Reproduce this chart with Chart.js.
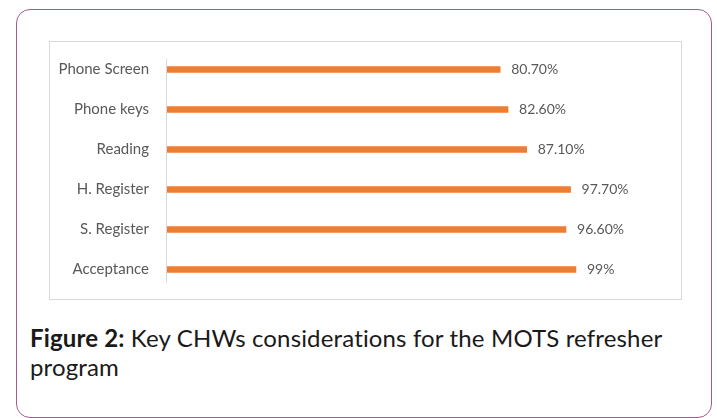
<!DOCTYPE html>
<html>
<head>
<meta charset="utf-8">
<script src="https://cdn.jsdelivr.net/npm/chart.js@4/dist/chart.umd.min.js"></script>
<style>
  html, body { margin: 0; padding: 0; background: #fff; }
  body { width: 717px; height: 418px; position: relative; overflow: hidden; font-family: Lato, "Open Sans", sans-serif; }
  .frame {
    position: absolute; left: 16px; top: 9px; width: 696px; height: 409px;
    box-sizing: border-box; border: 1.5px solid #a65a94; border-radius: 14px;
  }
  .chart-box {
    position: absolute; left: 49px; top: 41px; width: 633px; height: 259px;
    box-sizing: border-box; border: 1px solid #d9d9d9; background: #fff;
  }
  .chart-box canvas { position: absolute; left: 0; top: 0; }
  .caption {
    position: absolute; left: 30px; top: 323px; width: 660px;
    font-size: 24px; line-height: 29px; letter-spacing: 0.15px; color: #1a1a1a;
  }
  .caption b { font-weight: bold; }
</style>
</head>
<body>
<div class="frame"></div>
<div class="chart-box"><canvas id="chart" width="631" height="257"></canvas></div>
<div class="caption"><b>Figure 2:</b> Key CHWs considerations for the MOTS refresher program</div>

<script>
// data
const categories = ["Phone Screen", "Phone keys", "Reading", "H. Register", "S. Register", "Acceptance"];
const values = [80.7, 82.6, 87.1, 97.7, 96.6, 99];
const valueLabels = ["80.70%", "82.60%", "87.10%", "97.70%", "96.60%", "99%"];

const barColor = "#ed7d31";
const textColor = "#595959";

// draw the value text just right of each bar
const valueLabelPlugin = {
    id: "valueLabels",
    afterDatasetsDraw(chart) {
        const ctx = chart.ctx;
        const meta = chart.getDatasetMeta(0);
        ctx.save();
        ctx.font = "14px Lato, sans-serif";
        ctx.fillStyle = textColor;
        ctx.textAlign = "left";
        ctx.textBaseline = "middle";
        meta.data.forEach((bar, i) => {
            ctx.fillText(valueLabels[i], bar.x + 11, bar.y);
        });
        ctx.restore();
    }
};

// the category axis line in the figure stops a little short of the plot edges
const shortAxisPlugin = {
    id: "shortAxis",
    afterDraw(chart) {
        const { ctx, chartArea } = chart;
        const x = Math.round(chartArea.left) + 0.5;
        ctx.save();
        ctx.strokeStyle = "#d9d9d9";
        ctx.lineWidth = 1;
        ctx.beginPath();
        ctx.moveTo(x, chartArea.top + 9);
        ctx.lineTo(x, chartArea.bottom - 7);
        ctx.stroke();
        ctx.restore();
    }
};

const ctx = document.getElementById("chart").getContext("2d");
new Chart(ctx, {
    type: "bar",
    data: {
        labels: categories,
        datasets: [{
            data: values,
            backgroundColor: barColor,
            borderWidth: 0,
            barThickness: 6
        }]
    },
    options: {
        indexAxis: "y",
        responsive: false,
        animation: false,
        devicePixelRatio: 1,
        layout: { padding: { left: 0, right: 59.5, top: 7.5, bottom: 9.5 } },
        plugins: {
            legend: { display: false },
            tooltip: { enabled: false }
        },
        scales: {
            x: {
                display: false,
                min: 0,
                max: 110
            },
            y: {
                afterFit(scale) { scale.width = 116; },
                // invisible tick marks only to push the labels away from the axis
                grid: {
                    display: true,
                    drawOnChartArea: false,
                    drawTicks: true,
                    tickLength: 17,
                    color: "rgba(0,0,0,0)"
                },
                border: { display: false },
                ticks: {
                    color: textColor,
                    padding: 0,
                    font: { family: "Lato", size: 15, lineHeight: 1 }
                }
            }
        }
    },
    plugins: [valueLabelPlugin, shortAxisPlugin]
});
</script>
</body>
</html>
